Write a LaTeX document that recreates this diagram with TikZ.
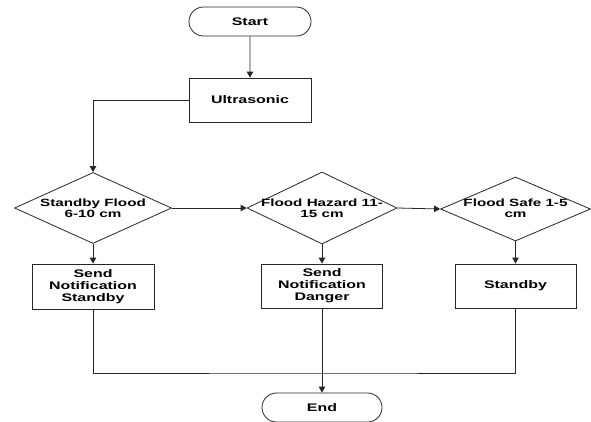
\documentclass[tikz,border=0pt]{standalone}
\usepackage{fontspec}
\setmainfont{Liberation Sans}[FakeStretch=1.45]
\usetikzlibrary{shapes.geometric,shapes.misc,arrows.meta}
\begin{document}
\begin{tikzpicture}[x=1pt,y=-1pt,
  line/.style={draw=black!85, line width=0.8pt},
  arr/.style={line, -{Triangle[length=6pt,width=6.5pt]}},
  term/.style={rounded rectangle, line, minimum width=122pt, minimum height=29pt, inner sep=0pt, font=\bfseries\fontsize{11}{12}\selectfont},
  proc/.style={rectangle, line, minimum width=122pt, minimum height=44pt, inner sep=0pt, align=center, font=\bfseries\fontsize{11}{12}\selectfont},
  dec/.style={diamond, line, inner sep=0pt},
  dtext/.style={align=center, inner sep=0pt, font=\bfseries\fontsize{10.5}{11}\selectfont}
]
\useasboundingbox (0,0) rectangle (591,421);
\node[term] (start) at (250,21.5) {Start};
\node[proc] (ultra) at (250,100) {Ultrasonic};
\node[dec, minimum width=157pt, minimum height=71pt] (d1) at (93,208) {};
\node[dtext] (t1) at (d1.center) {Standby Flood\\6-10 cm};
\node[dec, minimum width=150pt, minimum height=72pt] (d2) at (322,208) {};
\node[dtext] (t2) at (d2.center) {Flood Hazard 11-\\15 cm};
\node[dec, minimum width=150pt, minimum height=64pt] (d3) at (515.5,209) {};
\node[dtext] (t3) at (515.5,208) {Flood Safe 1-5\\cm};
\node[proc, minimum height=45pt] (b1) at (93,286.5) {Send\\Notification\\Standby};
\node[proc, minimum width=121pt] (b2) at (322,286) {Send\\Notification\\Danger};
\node[proc, minimum width=121pt] (b3) at (515.5,286) {Standby};
\node[term, minimum width=120pt] (end) at (322,407.5) {End};
\coordinate (j) at (322,373);
\draw[arr] (start) -- (ultra);
\draw[arr] (ultra.west) -| (d1.north);
\draw[arr] (d1.east) -- (d2.west);
\draw[arr] (d2.east) -- (d3.west);
\draw[arr] (d1.south) -- (b1.north);
\draw[arr] (d2.south) -- (b2.north);
\draw[arr] (d3.south) -- (b3.north);
\draw[line] (b1.south) |- (j) -| (b3.south);
\draw[arr] (b2.south) -- (end.north);
\end{tikzpicture}
\end{document}
